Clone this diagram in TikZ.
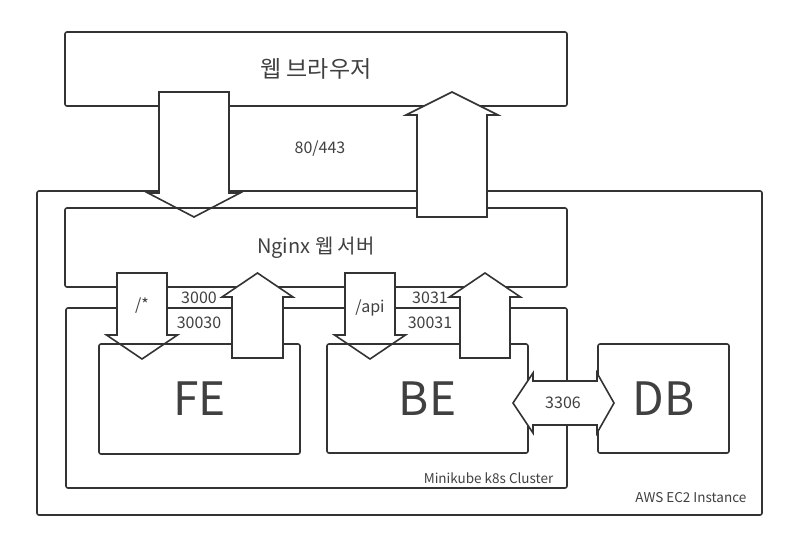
\documentclass[tikz,border=0pt]{standalone}
\usepackage{fontspec}
\setmainfont{Noto Sans CJK KR}

% block arrow: centre x, tail y, head base y, tip y, shaft half width, head half width
\newcommand{\drawBlockArrow}[6]{%
    \filldraw[blockarrow] (#1-#5,#2) -- (#1+#5,#2) -- (#1+#5,#3) -- (#1+#6,#3)
        -- (#1,#4) -- (#1-#6,#3) -- (#1-#5,#3) -- cycle;}

\begin{document}
\begin{tikzpicture}[x=1pt, y=-1pt,
    box/.style={draw=borderColour, line width=1.6pt, rounded corners=2pt,
        text=textColour, inner sep=0pt},
    blockarrow/.style={draw=borderColour, fill=white, line width=1.6pt},
    portlabel/.style={text=textColour, font=\fontsize{16}{25}\selectfont, align=center},
    caption/.style={text=textColour, font=\fontsize{13.5}{15}\selectfont, anchor=east}]

    \definecolor{borderColour}{HTML}{333333}
    \definecolor{textColour}{HTML}{404040}

    \useasboundingbox (0,0) rectangle (800,550);

    % Browser
    \node[box, minimum width=502pt, minimum height=74pt,
        font=\fontsize{23}{26}\selectfont] (browser) at (316,69) {웹 브라우저};

    % AWS EC2 instance
    \node[box, minimum width=725pt, minimum height=324pt] (ec2) at (399.5,353) {};
    \node[caption] (ec2Label) at ([xshift=-13pt,yshift=18pt]ec2.south east) {AWS EC2 Instance};

    % Browser -> Nginx
    \drawBlockArrow{194}{92}{193}{217}{35}{46}

    % Nginx web server
    \node[box, minimum width=502pt, minimum height=79pt,
        font=\fontsize{20}{24}\selectfont] (nginx) at (316,247.5) {Nginx 웹 서버};

    % Nginx -> Browser
    \drawBlockArrow{452}{217}{115}{92}{35}{46}
    \node[portlabel] (webPort) at (320,149) {80/443};

    % Minikube cluster
    \node[box, minimum width=501pt, minimum height=180pt] (k8s) at (316.5,398) {};
    \node[caption] (k8sLabel) at ([xshift=-11pt,yshift=11pt]k8s.south east) {Minikube k8s Cluster};

    % Nginx -> FE, BE
    \drawBlockArrow{142}{273}{335}{359}{25}{35.5}
    \drawBlockArrow{370}{273}{335}{359}{25}{35.5}

    % Pods
    \node[box, minimum width=201pt, minimum height=110pt,
        font=\fontsize{46}{50}\selectfont] (fe) at (199.5,399) {FE};
    \node[box, minimum width=201pt, minimum height=109pt,
        font=\fontsize{46}{50}\selectfont] (be) at (427.5,398.5) {BE};

    % FE, BE -> Nginx
    \drawBlockArrow{257.5}{358}{297}{273}{25.5}{35.5}
    \drawBlockArrow{485}{358}{297}{273}{25}{35.5}

    \node[portlabel] (feRoute) at (142,306) {/*};
    \node[portlabel] (fePort) at (199,310) {3000\\30030};
    \node[portlabel] (beRoute) at (370,308) {/api};
    \node[portlabel] (bePort) at (430,310) {3031\\30031};

    % Database
    \node[box, minimum width=131pt, minimum height=109pt,
        font=\fontsize{46}{50}\selectfont] (db) at (663.5,398.5) {DB};

    % BE <-> DB
    \filldraw[blockarrow] (513,403) -- (533,373) -- (533,381) -- (597,381) -- (597,373)
        -- (614,403) -- (597,433) -- (597,425) -- (533,425) -- (533,433) -- cycle;
    \node[portlabel] (dbPort) at (563,403) {3306};

\end{tikzpicture}
\end{document}
